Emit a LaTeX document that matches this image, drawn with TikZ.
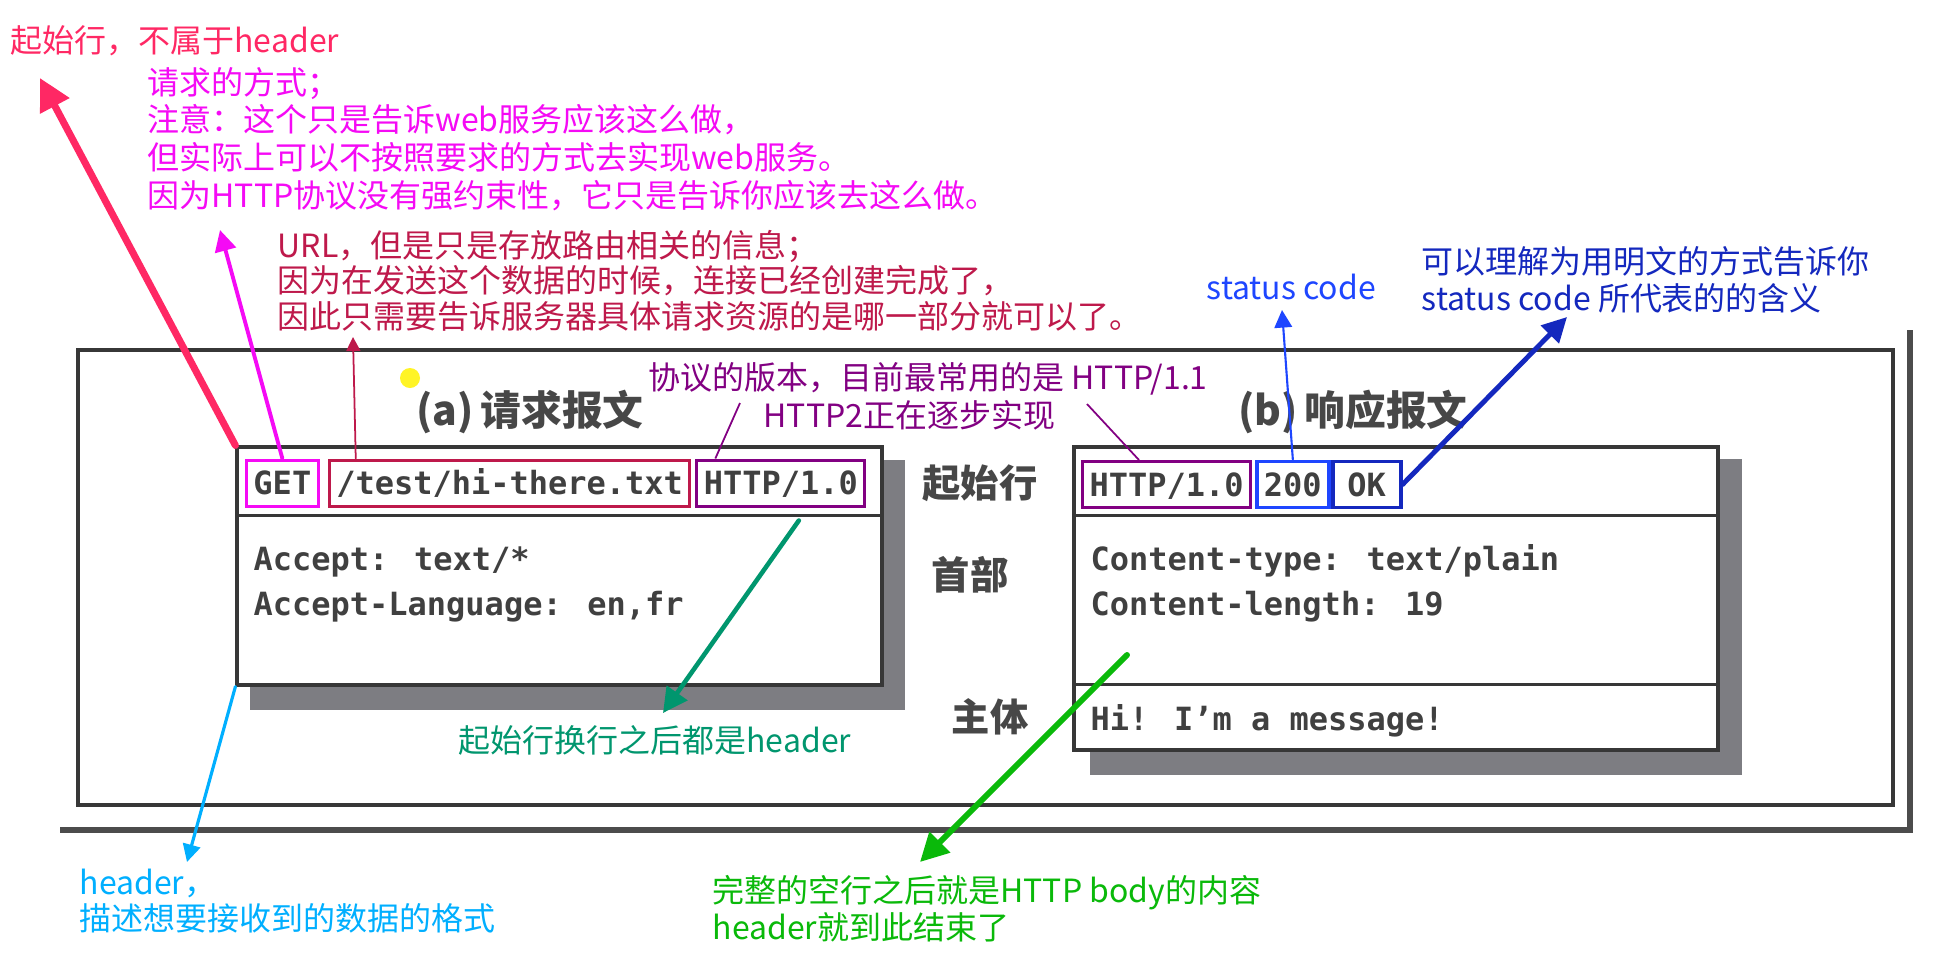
\documentclass[tikz,border=0pt]{standalone}
\usepackage{fontspec}
\newfontfamily\cjk{Noto Sans CJK SC}
\newfontfamily\codefont{DejaVu Sans Mono}
\usetikzlibrary{positioning,arrows.meta,calc}

\definecolor{startred}{RGB}{255,40,100}
\definecolor{methodpink}{RGB}{245,10,245}
\definecolor{urlred}{RGB}{190,25,75}
\definecolor{verpurple}{RGB}{130,0,130}
\definecolor{codeblue}{RGB}{30,70,255}
\definecolor{phraseblue}{RGB}{20,40,190}
\definecolor{hdrteal}{RGB}{0,150,110}
\definecolor{hdrcyan}{RGB}{0,175,255}
\definecolor{bodygreen}{RGB}{10,185,10}
\definecolor{scanink}{RGB}{55,55,55}
\definecolor{shadowgray}{RGB}{125,125,130}

\begin{document}
\begin{tikzpicture}[
  note/.style={font=\cjk\fontsize{9.1}{10.7}\selectfont, inner sep=0pt, align=left, anchor=base west},
  scanlbl/.style={font=\cjk\bfseries\fontsize{10.9}{13}\selectfont, text=black!72, inner sep=0pt},
  mono/.style={font=\codefont\bfseries\fontsize{9.1}{12.8}\selectfont, text=black!75, inner sep=0pt, anchor=base west, align=left},
  fieldbox/.style={draw, line width=0.85pt, font=\codefont\bfseries\fontsize{9.1}{11}\selectfont, text=black!75,
    inner xsep=0.07cm, inner ysep=0pt, text height=6.7pt, text depth=0pt, minimum height=0.46cm},
  msgbox/.style={draw=scanink, line width=0.9pt, fill=white, inner sep=0pt},
  callout/.style={line cap=round, -{Triangle[length=#1, width=#1]}}
]
\fill[white] (0,0) rectangle (19.5,-9.72);
\useasboundingbox (0,0) rectangle (19.5,-9.72);

% scanned figure: frame, shadows, the two messages
\draw[scanink, line width=1.1pt] (0.78,-3.50) rectangle (18.93,-8.05);
\draw[black!70, line width=1.5pt] (0.60,-8.30) -- (19.10,-8.30) -- (19.10,-3.30);
\fill[shadowgray] (2.50,-4.60) rectangle (9.05,-7.10);
\fill[shadowgray] (10.90,-4.59) rectangle (17.42,-7.75);
\fill[yellow!85!white] (4.10,-3.78) circle (0.10);

\node[msgbox, minimum width=6.45cm, minimum height=2.38cm] (req) at (5.595,-5.66) {};
\draw[scanink, line width=0.9pt] ($(req.north west)+(0,-0.70)$) -- ($(req.north east)+(0,-0.70)$);
\node[msgbox, minimum width=6.44cm, minimum height=3.03cm] (resp) at (13.96,-5.985) {};
\draw[scanink, line width=0.9pt] ($(resp.north west)+(0,-0.70)$) -- ($(resp.north east)+(0,-0.70)$);
\draw[scanink, line width=0.9pt] ($(resp.north west)+(0,-2.39)$) -- ($(resp.north east)+(0,-2.39)$);

\node[scanlbl, font=\cjk\bfseries\fontsize{11.6}{13}\selectfont] (reqtitle) at (5.30,-4.12) {(a)\,请求报文};
\node[scanlbl, font=\cjk\bfseries\fontsize{11.6}{13}\selectfont] (resptitle) at (13.53,-4.12) {(b)\,响应报文};
\node[scanlbl] (lblstart) at (9.80,-4.83) {起始行};
\node[scanlbl] (lblhead) at (9.70,-5.75) {首部};
\node[scanlbl] (lblbody) at (9.90,-7.17) {主体};

% start lines
\node[fieldbox, draw=methodpink, anchor=west] (method) at (2.45,-4.83) {GET};
\node[fieldbox, draw=urlred, right=0.08cm of method] (url) {/test/hi-there.txt};
\node[fieldbox, draw=verpurple, right=0.04cm of url] (reqver) {HTTP/1.0};
\node[fieldbox, draw=verpurple, anchor=west] (respver) at (10.81,-4.845) {HTTP/1.0};
\node[fieldbox, draw=codeblue, line width=1.1pt, right=0.03cm of respver] (code) {200};
\node[fieldbox, draw=phraseblue, line width=1.1pt, right=0cm of code, minimum width=0.68cm] (phrase) {OK};

% headers and body (base = last line)
\node[mono] (accept) at (2.53,-6.15) {Accept: text/*\\Accept-Language: en,fr};
\node[mono] (ctype) at (10.90,-6.15) {Content-type: text/plain\\Content-length: 19};
\node[mono] (msgbody) at (10.90,-7.30) {Hi! I’m a message!};

% notes (base = last line)
\node[note, text=startred] (startnote) at (0.10,-0.52) {起始行，不属于header};
\node[note, text=methodpink] (methodnote) at (1.47,-2.07) {请求的方式；\\注意：这个只是告诉web服务应该这么做，\\但实际上可以不按照要求的方式去实现web服务。\\因为HTTP协议没有强约束性，它只是告诉你应该去这么做。};
\node[note, text=urlred, font=\cjk\fontsize{9.1}{10}\selectfont] (urlnote) at (2.77,-3.28) {URL，但是只是存放路由相关的信息；\\因为在发送这个数据的时候，连接已经创建完成了，\\因此只需要告诉服务器具体请求资源的是哪一部分就可以了。};
\node[note, text=codeblue] (codenote) at (12.06,-2.99) {status code};
\node[note, text=phraseblue, font=\cjk\fontsize{9.1}{10.5}\selectfont] (phrasenote) at (14.21,-3.10) {可以理解为用明文的方式告诉你\\status code 所代表的的含义};
\node[note, text=verpurple] (vernote) at (6.48,-3.89) {协议的版本，目前最常用的是 HTTP/1.1};
\node[note, text=verpurple] (vernote2) at (7.63,-4.27) {HTTP2正在逐步实现};
\node[note, text=hdrteal] (tealnote) at (4.58,-7.52) {起始行换行之后都是header};
\node[note, text=hdrcyan, font=\cjk\fontsize{9.1}{10}\selectfont] (cyannote) at (0.79,-9.30) {header，\\描述想要接收到的数据的格式};
\node[note, text=bodygreen, font=\cjk\fontsize{9.1}{10.5}\selectfont] (greennote) at (7.12,-9.39) {完整的空行之后就是HTTP body的内容\\header就到此结束了};

% callouts
\coordinate (startend) at (0.40,-0.78);
\coordinate (methodend) at (2.20,-2.30);
\coordinate (urlend) at (3.53,-3.37);
\coordinate (verleft) at (7.40,-4.03);
\coordinate (verright) at (10.87,-4.04);
\coordinate (codeend) at (12.82,-3.10);
\coordinate (phraseend) at (15.67,-3.17);
\coordinate (tealend) at (6.63,-7.13);
\coordinate (cyanend) at (1.87,-8.62);
\coordinate (blankline) at (11.27,-6.55);
\coordinate (greenend) at (9.20,-8.62);

\draw[callout=9pt, startred, line width=2pt] (req.north west) -- (startend);
\draw[callout=6pt, methodpink, line width=1.1pt] (method.north) -- (methodend);
\draw[callout=4pt, urlred, line width=0.5pt] ([xshift=0.28cm]url.north west) -- (urlend);
\draw[verpurple, line width=0.5pt] ([xshift=0.20cm]reqver.north west) -- (verleft);
\draw[verpurple, line width=0.5pt] (verright) -- ([xshift=0.58cm]respver.north west);
\draw[callout=5pt, codeblue, line width=0.6pt] (code.north) -- (codeend);
\draw[callout=7pt, phraseblue, line width=1.4pt] (phrase.east) -- (phraseend);
\draw[callout=7pt, hdrteal, line width=1.3pt] ([xshift=0.18cm,yshift=-0.13cm]reqver.south) -- (tealend);
\draw[callout=5pt, hdrcyan, line width=0.9pt] (req.south west) -- (cyanend);
\draw[callout=8pt, bodygreen, line width=1.7pt] (blankline) -- (greenend);
\end{tikzpicture}
\end{document}
